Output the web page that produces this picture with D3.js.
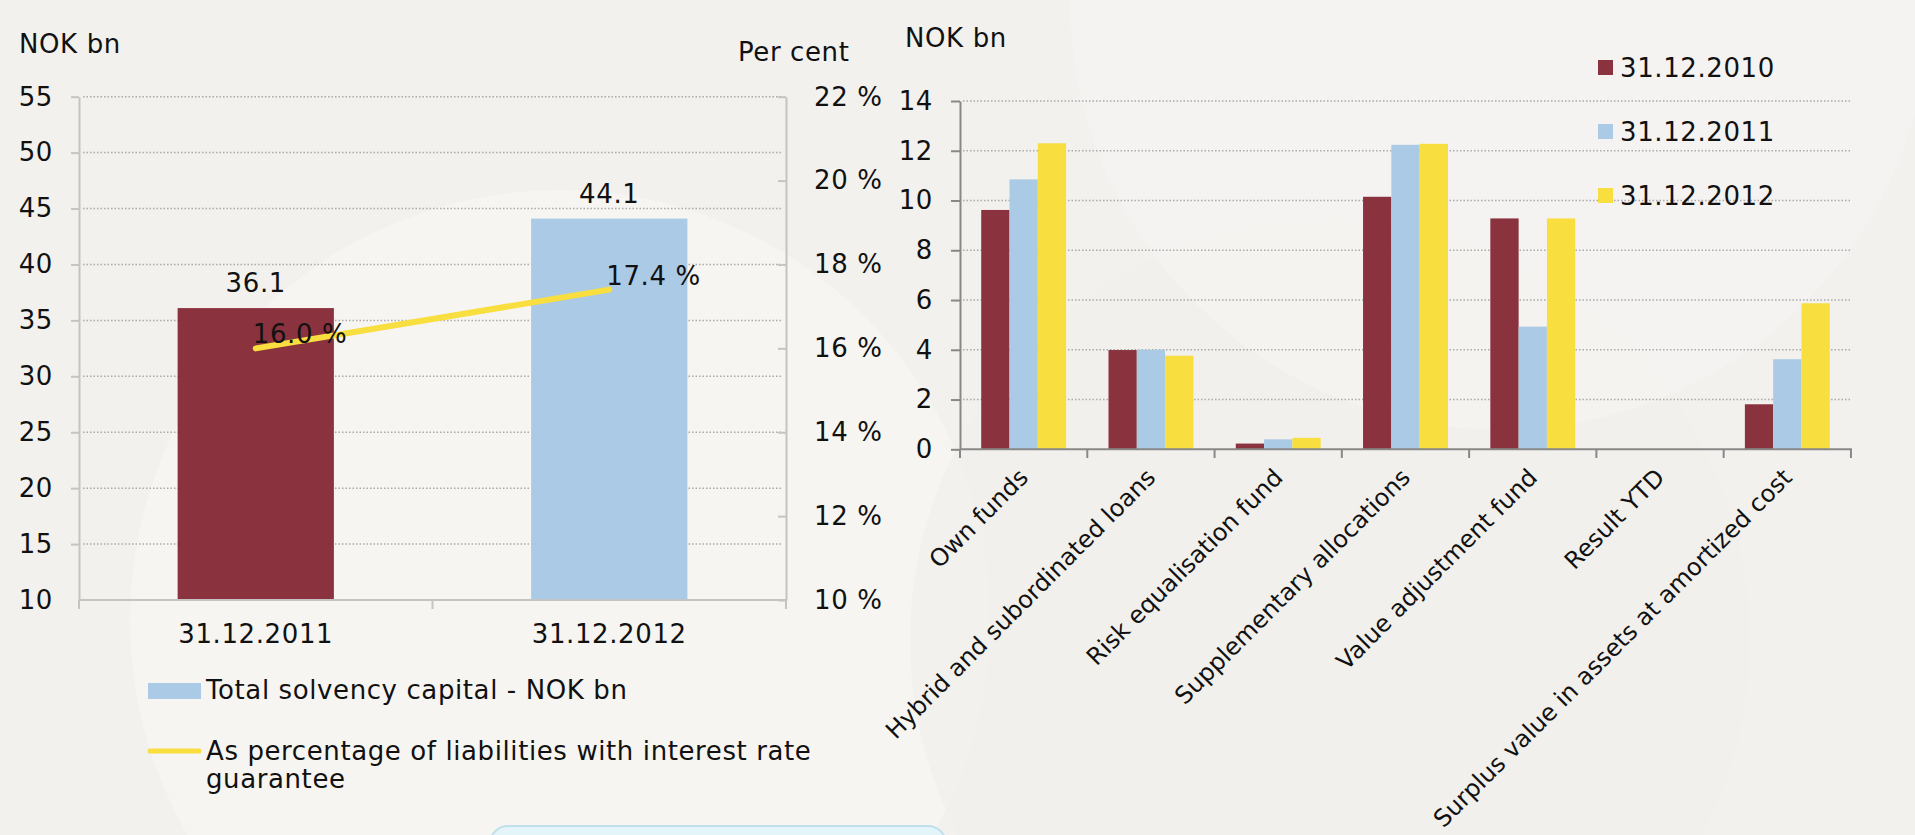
<!DOCTYPE html>
<html>
<head>
<meta charset="utf-8">
<script src="https://cdn.jsdelivr.net/npm/d3@7"></script>
<style>
  body { margin: 0; background: #f3f1ee; overflow: hidden; }
  text { font-family: "DejaVu Sans", Verdana, sans-serif; fill: #111; letter-spacing: 0.6px; }
</style>
</head>
<body>
<div id="chart"></div>
<script>
// left chart data
var solvencyDates = ["31.12.2011", "31.12.2012"];
var solvencyCapital = [36.1, 44.1];
var solvencyPct = [16.0, 17.4];
var leftTicks = [10, 15, 20, 25, 30, 35, 40, 45, 50, 55];
var pctTicks = [10, 12, 14, 16, 18, 20, 22];

// right chart data
var components = [
  "Own funds",
  "Hybrid and subordinated loans",
  "Risk equalisation fund",
  "Supplementary allocations",
  "Value adjustment fund",
  "Result YTD",
  "Surplus value in assets at amortized cost"
];
var seriesNames = ["31.12.2010", "31.12.2011", "31.12.2012"];
var values2010 = [9.62, 3.99, 0.23, 10.15, 9.28, 0, 1.81];
var values2011 = [10.85, 4.0, 0.4, 12.24, 4.93, 0, 3.62];
var values2012 = [12.3, 3.76, 0.46, 12.28, 9.28, 0, 5.87];
var rightTicks = [0, 2, 4, 6, 8, 10, 12, 14];

var colors = ["#8a323d", "#abcae6", "#f8de3e"];
var width = 1915;
var height = 835;

var svg = d3
  .select("#chart")
  .append("svg")
  .attr("width", width)
  .attr("height", height);

// background with some soft swirls
svg.append("rect").attr("width", width).attr("height", height).attr("fill", "#f3f1ee");
svg.append("circle").attr("cx", 560).attr("cy", 620).attr("r", 430).attr("fill", "#f7f6f3").attr("opacity", 0.7);
svg.append("circle").attr("cx", 1330).attr("cy", 640).attr("r", 420).attr("fill", "#f1efeb").attr("opacity", 0.7);
svg.append("circle").attr("cx", 1500).attr("cy", 0).attr("r", 430).attr("fill", "#f7f6f3").attr("opacity", 0.5);
svg.append("rect")
  .attr("x", 490).attr("y", 826).attr("width", 456).attr("height", 40)
  .attr("rx", 18)
  .attr("fill", "#e4f5fa")
  .attr("stroke", "#bfe0ea")
  .attr("stroke-width", 2);

function dotted(g) {
  g.attr("stroke", "#aaaaaa").attr("stroke-width", 1.5).attr("stroke-dasharray", "1.5,2");
}

// ---------- left chart ----------
var yLeft = d3.scaleLinear().domain([10, 55]).range([600, 96.7]);
var yPct = d3.scaleLinear().domain([10, 22]).range([600, 96.7]);
var xLeft = d3
  .scaleBand()
  .domain(solvencyDates)
  .range([79, 786])
  .paddingInner(0.558)
  .paddingOuter(0.279);

var left = svg.append("g");

left.selectAll(".grid")
  .data(leftTicks.slice(1))
  .enter()
  .append("line")
  .attr("x1", 83)
  .attr("x2", 782)
  .attr("y1", function(d) { return yLeft(d); })
  .attr("y2", function(d) { return yLeft(d); })
  .call(dotted);

left.selectAll(".bar")
  .data(solvencyCapital)
  .enter()
  .append("rect")
  .attr("x", function(d, i) { return xLeft(solvencyDates[i]); })
  .attr("y", function(d) { return yLeft(d); })
  .attr("width", xLeft.bandwidth())
  .attr("height", function(d) { return yLeft(10) - yLeft(d); })
  .attr("fill", function(d, i) { return colors[i]; });

var yAxisL = d3.axisLeft(yLeft).tickValues(leftTicks).tickSize(8).tickSizeOuter(0).tickPadding(18);
var ga = left.append("g").attr("transform", "translate(79,0)").call(yAxisL);
var yAxisR = d3.axisRight(yPct).tickValues(pctTicks).tickSizeInner(-8).tickSizeOuter(0).tickPadding(28)
  .tickFormat(function(d) { return d + " %"; });
var gb = left.append("g").attr("transform", "translate(786,0)").call(yAxisR);
[ga, gb].forEach(function(g) {
  g.select(".domain").attr("stroke", "#c4c4c4").attr("stroke-width", 2);
  g.selectAll(".tick line").attr("stroke", "#c4c4c4").attr("stroke-width", 2);
  g.selectAll("text").attr("font-size", 26).attr("font-family", null).attr("fill", "#111");
});
ga.selectAll(".tick").filter(function(d) { return d === 10; }).select("line").attr("stroke", "none");

// x axis
left.append("line").attr("x1", 79).attr("x2", 786).attr("y1", 600).attr("y2", 600)
  .attr("stroke", "#c4c4c4").attr("stroke-width", 2);
var stepL = xLeft.step();
var bounds = [79, 79 + stepL, 786];
left.selectAll(".xtick")
  .data(bounds)
  .enter()
  .append("line")
  .attr("x1", function(d) { return d; })
  .attr("x2", function(d) { return d; })
  .attr("y1", 600)
  .attr("y2", 609)
  .attr("stroke", "#c4c4c4")
  .attr("stroke-width", 2);
left.selectAll(".xlab")
  .data(solvencyDates)
  .enter()
  .append("text")
  .attr("x", function(d) { return xLeft(d) + xLeft.bandwidth() / 2; })
  .attr("y", 643)
  .attr("text-anchor", "middle")
  .attr("font-size", 26)
  .text(function(d) { return d; });

// bar labels
left.selectAll(".blab")
  .data(solvencyCapital)
  .enter()
  .append("text")
  .attr("x", function(d, i) { return xLeft(solvencyDates[i]) + xLeft.bandwidth() / 2; })
  .attr("y", function(d) { return yLeft(d) - 16; })
  .attr("text-anchor", "middle")
  .attr("font-size", 26)
  .text(function(d) { return d.toFixed(1); });

// percentage line
var line = d3
  .line()
  .x(function(d, i) { return xLeft(solvencyDates[i]) + xLeft.bandwidth() / 2; })
  .y(function(d) { return yPct(d); });
left.append("path")
  .datum(solvencyPct)
  .attr("d", line)
  .attr("fill", "none")
  .attr("stroke", "#f8de3e")
  .attr("stroke-width", 6)
  .attr("stroke-linecap", "round");
left.selectAll(".plab")
  .data(solvencyPct)
  .enter()
  .append("text")
  .attr("x", function(d, i) { return xLeft(solvencyDates[i]) + xLeft.bandwidth() / 2 - 3; })
  .attr("y", function(d) { return yPct(d) - 5; })
  .attr("font-size", 26)
  .text(function(d) { return d.toFixed(1) + " %"; });

left.append("text").attr("x", 19).attr("y", 53).attr("font-size", 26).text("NOK bn");
left.append("text").attr("x", 738).attr("y", 61).attr("font-size", 26).text("Per cent");

// legend
left.append("rect").attr("x", 148).attr("y", 683).attr("width", 53).attr("height", 16).attr("fill", colors[1]);
left.append("text").attr("x", 206).attr("y", 699).attr("font-size", 26).text("Total solvency capital - NOK bn");
left.append("line").attr("x1", 150).attr("x2", 199).attr("y1", 751).attr("y2", 751)
  .attr("stroke", "#f8de3e").attr("stroke-width", 5).attr("stroke-linecap", "round");
left.append("text").attr("x", 206).attr("y", 760).attr("font-size", 26)
  .text("As percentage of liabilities with interest rate");
left.append("text").attr("x", 206).attr("y", 788).attr("font-size", 26).text("guarantee");

// ---------- right chart ----------
var yRight = d3.scaleLinear().domain([0, 14]).range([449.3, 101]);
var xRight = d3
  .scaleBand()
  .domain(components)
  .range([960, 1851])
  .paddingInner(0.333)
  .paddingOuter(0.1667);
var xSub = d3.scaleBand().domain(seriesNames).range([0, xRight.bandwidth()]);
var allSeries = [values2010, values2011, values2012];

var right = svg.append("g");

right.selectAll(".grid")
  .data(rightTicks.slice(1))
  .enter()
  .append("line")
  .attr("x1", 963)
  .attr("x2", 1851)
  .attr("y1", function(d) { return yRight(d); })
  .attr("y2", function(d) { return yRight(d); })
  .call(dotted);

allSeries.forEach(function(vals, s) {
  right.selectAll(".bar" + s)
    .data(vals)
    .enter()
    .append("rect")
    .attr("x", function(d, i) { return xRight(components[i]) + xSub(seriesNames[s]); })
    .attr("y", function(d) { return yRight(d); })
    .attr("width", xSub.bandwidth())
    .attr("height", function(d) { return yRight(0) - yRight(d); })
    .attr("fill", colors[s]);
});

var yAxisRt = d3.axisLeft(yRight).tickValues(rightTicks).tickSize(9).tickSizeOuter(0).tickPadding(18);
var gc = right.append("g").attr("transform", "translate(960,0)").call(yAxisRt);
gc.select(".domain").attr("stroke", "#888").attr("stroke-width", 2);
gc.selectAll(".tick line").attr("stroke", "#888").attr("stroke-width", 2);
gc.selectAll("text").attr("font-size", 26).attr("font-family", null).attr("fill", "#111");

right.append("line").attr("x1", 960).attr("x2", 1852).attr("y1", 449.3).attr("y2", 449.3)
  .attr("stroke", "#888").attr("stroke-width", 2);
var stepR = xRight.step();
right.selectAll(".xtick")
  .data(d3.range(components.length + 1))
  .enter()
  .append("line")
  .attr("x1", function(d) { return 960 + d * stepR; })
  .attr("x2", function(d) { return 960 + d * stepR; })
  .attr("y1", 449.3)
  .attr("y2", 458)
  .attr("stroke", "#888")
  .attr("stroke-width", 2);

right.selectAll(".xlab")
  .data(components)
  .enter()
  .append("text")
  .attr("transform", function(d) {
    return "translate(" + (xRight(d) + xRight.bandwidth() / 2 + 6) + ",479) rotate(-45)";
  })
  .attr("text-anchor", "end")
  .attr("font-size", 24)
  .style("letter-spacing", "0px")
  .text(function(d) { return d; });

right.append("text").attr("x", 905).attr("y", 47).attr("font-size", 26).text("NOK bn");

var legend = right.selectAll(".leg")
  .data(seriesNames)
  .enter()
  .append("g")
  .attr("transform", function(d, i) { return "translate(1598," + (60 + i * 64) + ")"; });
legend.append("rect").attr("width", 15).attr("height", 15).attr("fill", function(d, i) { return colors[i]; });
legend.append("text").attr("x", 22).attr("y", 17).attr("font-size", 26).text(function(d) { return d; });
</script>
</body>
</html>
